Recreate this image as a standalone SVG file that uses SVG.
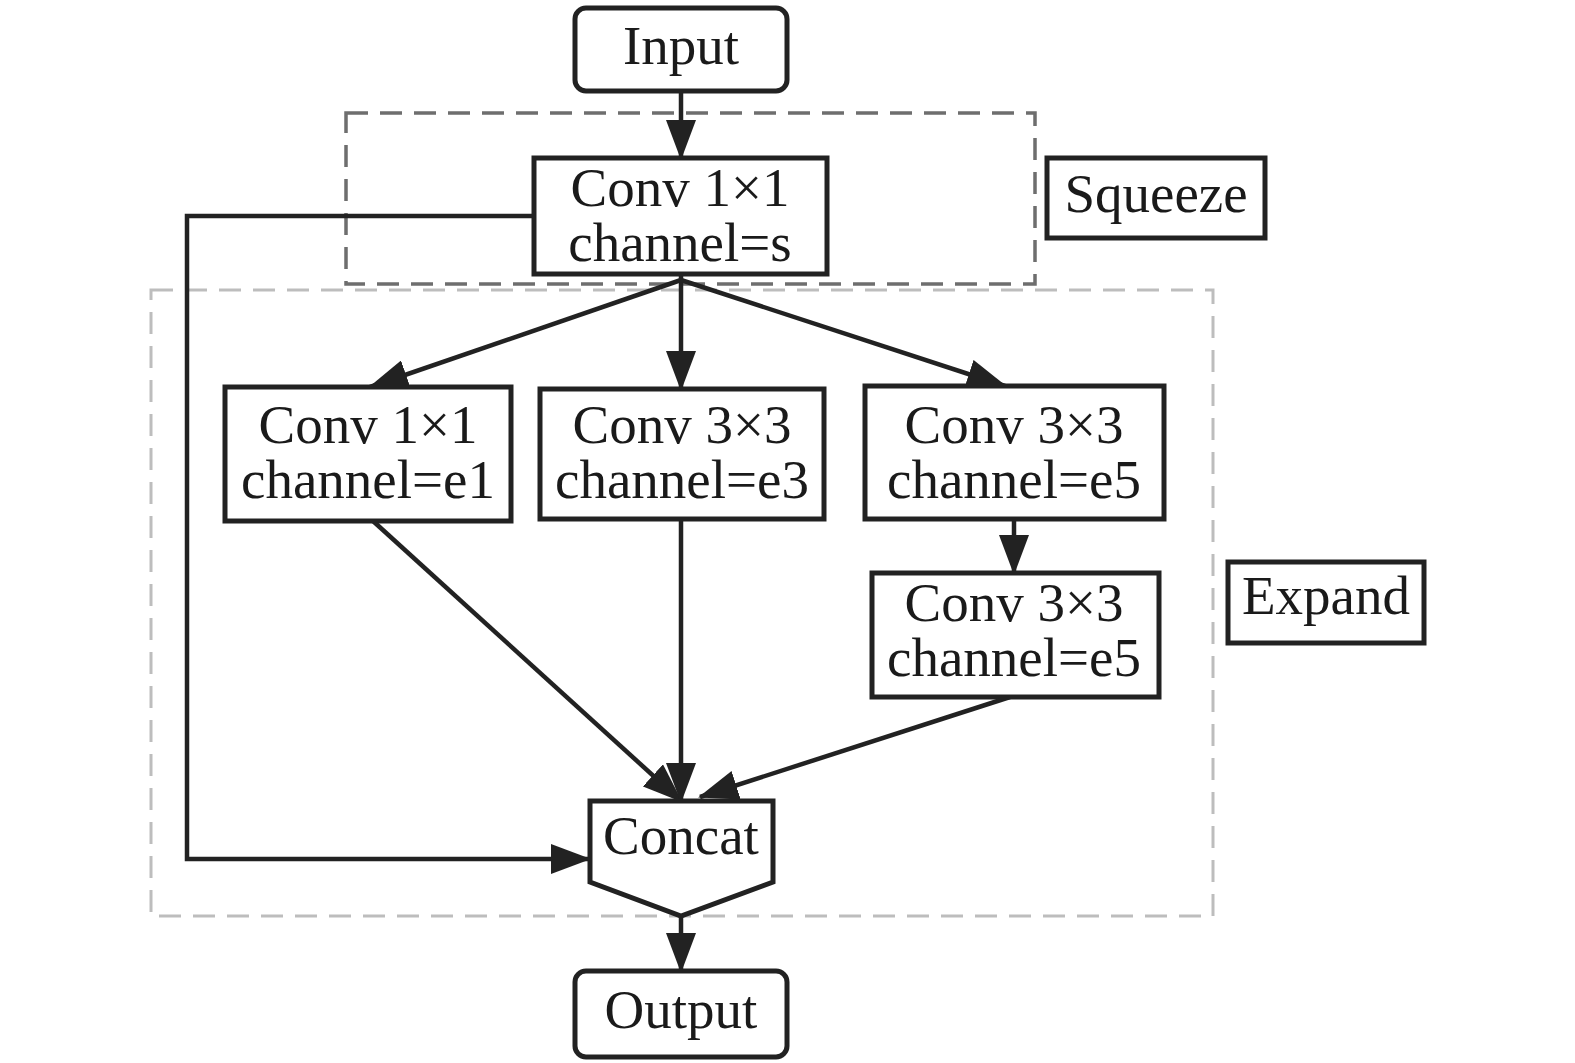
<svg xmlns="http://www.w3.org/2000/svg" width="1575" height="1063" viewBox="0 0 1575 1063">
<style>
.box{fill:#fff;stroke:#222;stroke-width:5}
.t{font-family:"Liberation Serif","Times New Roman",serif;font-size:55px;fill:#1a1a1a;text-anchor:middle}
.c{fill:none;stroke:#222;stroke-width:4.5}
.sq{fill:none;stroke:#6e6e6e;stroke-width:3.5;stroke-dasharray:22,12}
.ex{fill:none;stroke:#bdbdbd;stroke-width:3;stroke-dasharray:22,12}
</style>
<defs>
<marker id="ah" markerUnits="userSpaceOnUse" markerWidth="40" markerHeight="30" refX="38" refY="15" orient="auto">
<path d="M0,0 L40,15 L0,30 Z" fill="#222"/>
</marker>
</defs>
<rect width="1575" height="1063" fill="#fff"/>
<g id="groups">
<rect x="346" y="113" width="689" height="171" class="sq"/>
<rect x="151" y="290" width="1062" height="626" class="ex"/>
</g>
<g id="connectors">
<line x1="681" y1="91" x2="681" y2="158" class="c" marker-end="url(#ah)"/>
<line x1="681" y1="274" x2="681" y2="389" class="c" marker-end="url(#ah)"/>
<line x1="681" y1="280" x2="370" y2="387" class="c" marker-end="url(#ah)"/>
<line x1="681" y1="280" x2="1005" y2="386" class="c" marker-end="url(#ah)"/>
<line x1="1014" y1="519" x2="1014" y2="573" class="c" marker-end="url(#ah)"/>
<line x1="373" y1="521" x2="681" y2="801" class="c" marker-end="url(#ah)"/>
<line x1="681" y1="519" x2="681" y2="801" class="c" marker-end="url(#ah)"/>
<line x1="1010" y1="697" x2="700" y2="797" class="c" marker-end="url(#ah)"/>
<polyline points="534,216 187,216 187,859 589,859" class="c" marker-end="url(#ah)"/>
<line x1="681" y1="916" x2="681" y2="971" class="c" marker-end="url(#ah)"/>
</g>
<g id="input"><rect x="575" y="8" width="212" height="83" rx="11" class="box"/><text x="681" y="64" class="t">Input</text></g>
<g id="squeeze-conv"><rect x="534" y="158" width="293" height="116" class="box"/><text x="680" y="206" class="t">Conv 1×1</text><text x="680" y="261" class="t">channel=s</text></g>
<g id="squeeze-label"><rect x="1047" y="158" width="218" height="80" class="box"/><text x="1156" y="212" class="t">Squeeze</text></g>
<g id="conv-e1"><rect x="225" y="387" width="286" height="134" class="box"/><text x="368" y="443" class="t">Conv 1×1</text><text x="368" y="498" class="t">channel=e1</text></g>
<g id="conv-e3"><rect x="540" y="389" width="284" height="130" class="box"/><text x="682" y="443" class="t">Conv 3×3</text><text x="682" y="498" class="t">channel=e3</text></g>
<g id="conv-e5a"><rect x="865" y="386" width="299" height="133" class="box"/><text x="1014" y="443" class="t">Conv 3×3</text><text x="1014" y="498" class="t">channel=e5</text></g>
<g id="conv-e5b"><rect x="872" y="573" width="287" height="124" class="box"/><text x="1014" y="621" class="t">Conv 3×3</text><text x="1014" y="676" class="t">channel=e5</text></g>
<g id="expand-label"><rect x="1228" y="562" width="196" height="81" class="box"/><text x="1326" y="614" class="t">Expand</text></g>
<g id="concat"><path d="M590,801 L773,801 L773,882 L681,916 L590,882 Z" class="box"/><text x="681" y="854" class="t">Concat</text></g>
<g id="output"><rect x="575" y="971" width="212" height="86" rx="11" class="box"/><text x="681" y="1028" class="t">Output</text></g>
</svg>
